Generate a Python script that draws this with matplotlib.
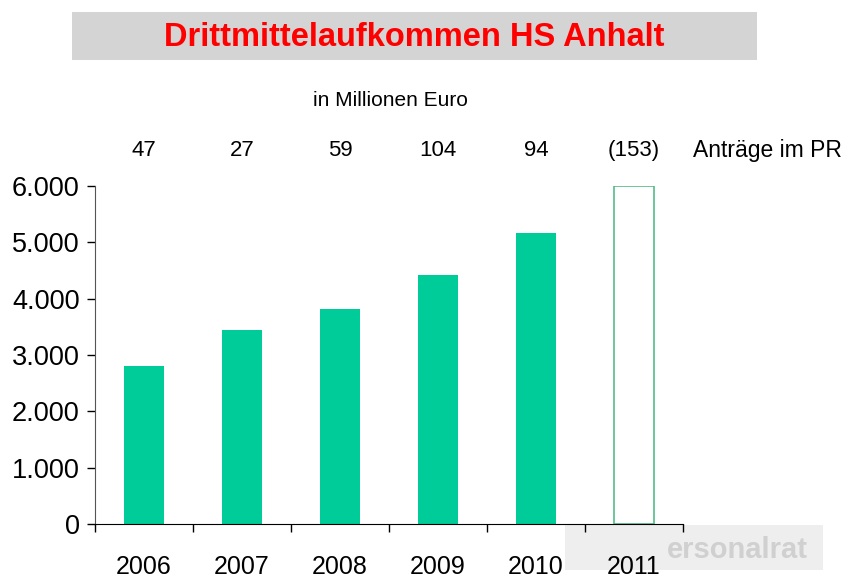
import numpy as np
import matplotlib.pyplot as plt
from matplotlib.ticker import FuncFormatter
from matplotlib.patches import Rectangle

# Drittmittel in Millionen Euro (in Tausend dargestellt)
years = ["2006", "2007", "2008", "2009", "2010", "2011"]
values = [2800, 3450, 3820, 4420, 5170, 6000]
antraege = ["47", "27", "59", "104", "94", "(153)"]

green = "#00CC99"
plt.rcParams['font.family'] = ['Liberation Sans', 'DejaVu Sans']

fig = plt.figure(figsize=(8.51, 5.77), dpi=100)

# Wasserzeichen (hinter allem)
fig.patches.append(Rectangle((565/851, 1 - 570/577), 258/851, 45/577, transform=fig.transFigure,
                             facecolor="#EEEEEE", edgecolor="none", zorder=-2))
fig.text(737/851, 1 - 550/577, "ersonalrat", ha="center", va="center", fontsize=21,
         fontweight="bold", color="#D0D0D0", zorder=-1)

ax = fig.add_axes([95/851, 1 - 524/577, 588/851, 338/577])
ax.patch.set_alpha(0)

x = np.arange(len(years))
ax.bar(x[:-1], values[:-1], width=0.41, color=green, zorder=2)
ax.bar(x[-1], values[-1], width=0.41, facecolor="white", edgecolor="#55BB88", linewidth=1.2, zorder=2)

ax.set_xlim(-0.5, len(years) - 0.5)
ax.set_ylim(0, 6000)
ax.set_yticks(np.arange(0, 6001, 1000))
ax.yaxis.set_major_formatter(FuncFormatter(lambda v, p: f"{int(v):,}".replace(",", ".")))
ax.set_xticks(x)
ax.set_xticklabels(years)
ax.set_xticks(np.arange(-0.5, len(years)), minor=True)
ax.tick_params(axis='x', which='major', length=0, labelsize=18, pad=22)
ax.tick_params(axis='x', which='minor', length=6, width=1)
ax.tick_params(axis='y', length=6, width=1, labelsize=19.5, pad=5)
for s in ["top", "right"]:
    ax.spines[s].set_visible(False)
ax.spines["left"].set_color("#555555")

# Zahl der Anträge über den Balken
for xi, a in zip(x, antraege):
    ax.text(xi, 1.105, a, transform=ax.get_xaxis_transform(), ha="center", va="center", fontsize=16)
ax.text(693/851, 1 - 150/577, "Anträge im PR", transform=fig.transFigure, ha="left", va="center", fontsize=16.5)

fig.text(390/851, 1 - 101/577, "in Millionen Euro", ha="center", va="center", fontsize=15)

# Titel im grauen Kasten
fig.patches.append(Rectangle((72/851, 1 - 60/577), 685/851, 48/577, transform=fig.transFigure,
                             facecolor="#D4D4D4", edgecolor="none"))
fig.text(414/851, 1 - 37/577, "Drittmittelaufkommen HS Anhalt", ha="center", va="center",
         fontsize=23.5, fontweight="bold", color="#FF0000")

plt.savefig("out.png", dpi=100)
